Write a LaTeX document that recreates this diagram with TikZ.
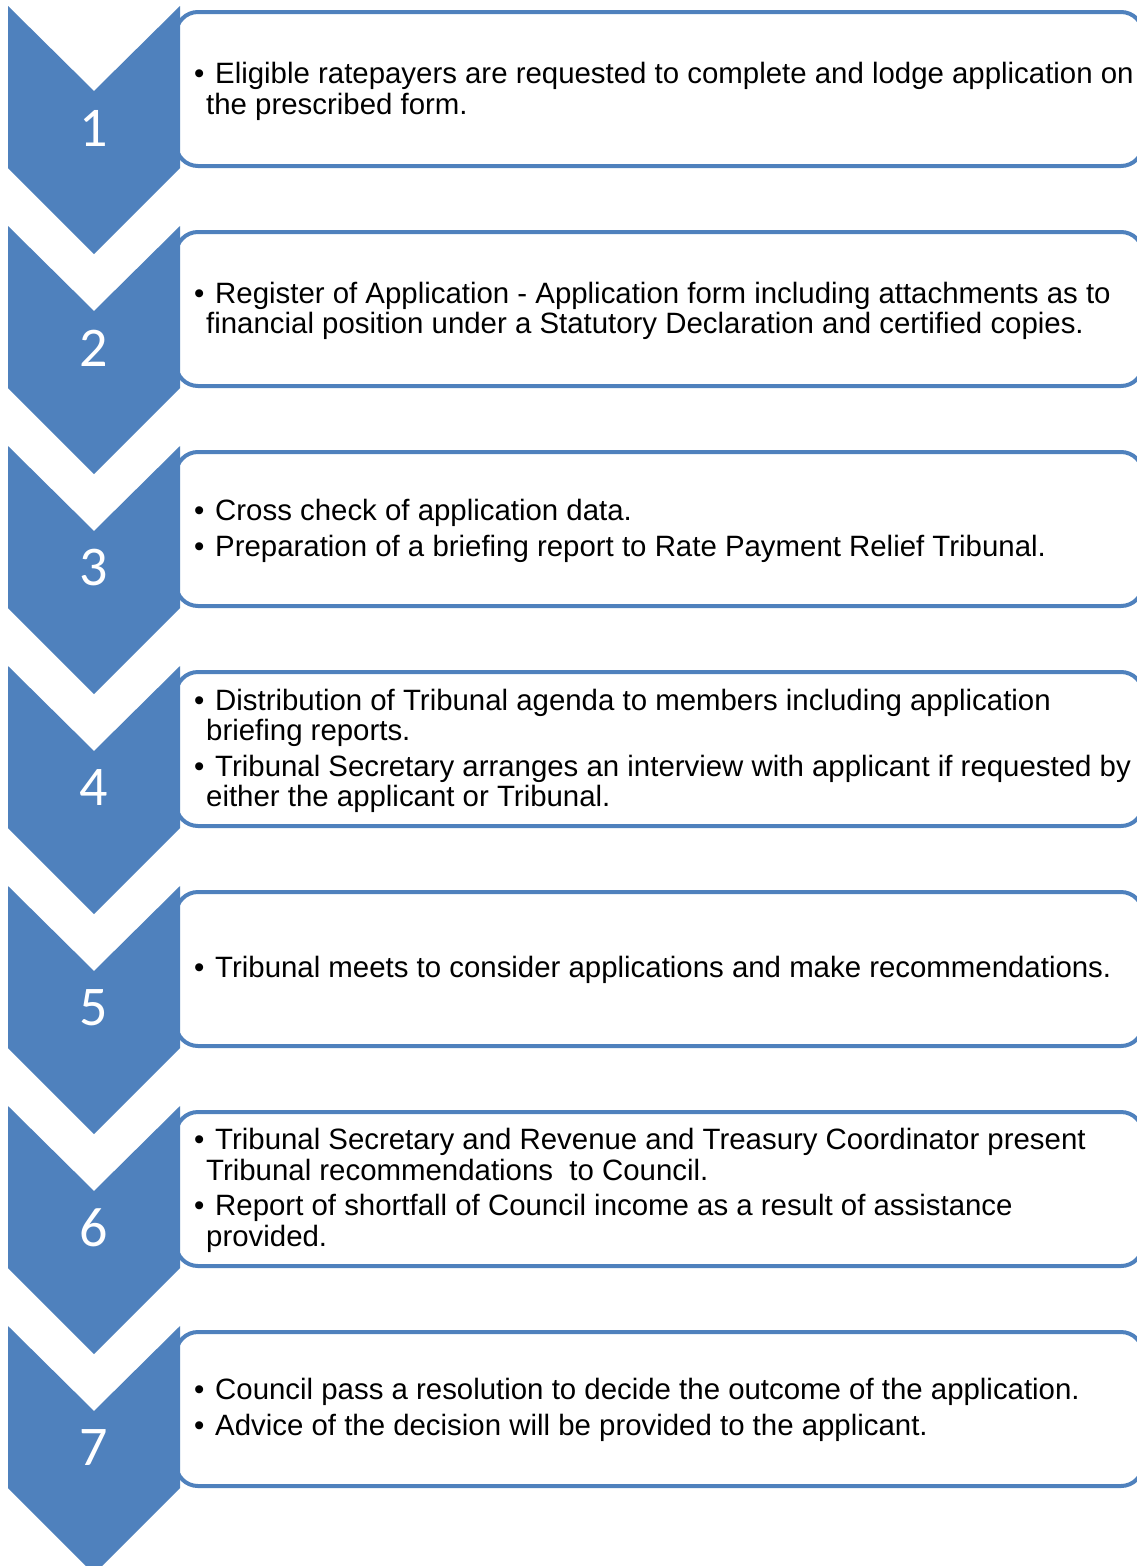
\documentclass[tikz,border=0pt]{standalone}
\usepackage{fontspec}
\setmainfont{Liberation Sans}
\newfontfamily\numfont{Carlito}
\definecolor{stepblue}{HTML}{4F81BD}
\newcommand{\bul}{\makebox[21pt][l]{\textbullet}}
\begin{document}
\begin{tikzpicture}[x=1pt,y=-1pt,
  textbox/.style={draw=stepblue,line width=4pt,fill=white,rounded corners=22pt},
  chevron/.style={fill=stepblue},
  stepnum/.style={text=white,font=\numfont\fontsize{56}{60}\selectfont,inner sep=0pt,anchor=center},
  bline/.style={anchor=base west,inner sep=0pt,font=\fontsize{29.4}{32}\selectfont},
  cline/.style={bline}]
\useasboundingbox (0,0) rectangle (1137,1566);
\fill[white] (0,0) rectangle (1137,1566);

% text boxes, one per step
\foreach \k in {0,...,6}{
  \pgfmathsetmacro{\t}{6+220*\k}
  \draw[textbox] (176,\t+6) rectangle (1143,\t+160);
}
% chevrons with step numbers
\foreach \k in {1,...,7}{
  \pgfmathsetmacro{\t}{6+220*(\k-1)}
  \fill[chevron] (8,\t) -- (94,\t+85) -- (180,\t) -- (180,\t+162) -- (94,\t+248) -- (8,\t+162) -- cycle;
  \node[stepnum] (n\k) at (94,\t+122) {\k};
}

% step texts
\node[bline] (s1a) at (194,83)  {\bul Eligible ratepayers are requested to complete and lodge application on};
\node[cline] (s1b) at (206,114) {the prescribed form.};

\node[bline] (s2a) at (194,303) {\bul Register of Application - Application form including attachments as to};
\node[cline] (s2b) at (206,333) {financial position under a Statutory Declaration and certified copies.};

\node[bline] (s3a) at (194,520) {\bul Cross check of application data.};
\node[bline] (s3b) at (194,556) {\bul Preparation of a briefing report to Rate Payment Relief Tribunal.};

\node[bline] (s4a) at (194,710) {\bul Distribution of Tribunal agenda to members including application};
\node[cline] (s4b) at (206,740) {briefing reports.};
\node[bline] (s4c) at (194,776) {\bul Tribunal Secretary arranges an interview with applicant if requested by};
\node[cline] (s4d) at (206,806) {either the applicant or Tribunal.};

\node[bline] (s5a) at (194,977) {\bul Tribunal meets to consider applications and make recommendations.};

\node[bline] (s6a) at (194,1149) {\bul Tribunal Secretary and Revenue and Treasury Coordinator present};
\node[cline] (s6b) at (206,1180) {Tribunal recommendations\ \ to Council.};
\node[bline] (s6c) at (194,1215) {\bul Report of shortfall of Council income as a result of assistance};
\node[cline] (s6d) at (206,1246) {provided.};

\node[bline] (s7a) at (194,1399) {\bul Council pass a resolution to decide the outcome of the application.};
\node[bline] (s7b) at (194,1435) {\bul Advice of the decision will be provided to the applicant.};
\end{tikzpicture}
\end{document}
